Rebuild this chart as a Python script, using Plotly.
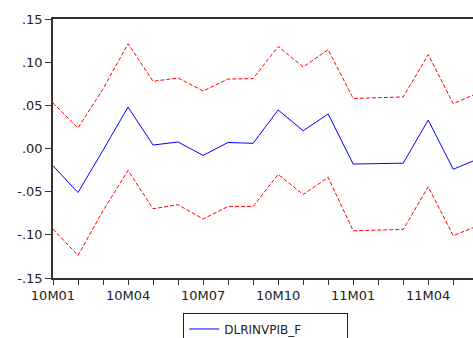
import plotly.graph_objects as go

months = ["10M01", "10M02", "10M03", "10M04", "10M05", "10M06", "10M07", "10M08", "10M09",
          "10M10", "10M11", "10M12", "11M01", "11M02", "11M03", "11M04", "11M05", "11M06"]
tick_labels = ["10M01", "", "", "10M04", "", "", "10M07", "", "", "10M10", "", "",
               "11M01", "", "", "11M04", "", ""]
forecast = [-0.020, -0.051, -0.002, 0.048, 0.004, 0.0075, -0.008, 0.007, 0.006,
            0.0446, 0.0206, 0.040, -0.018, -0.0175, -0.017, 0.033, -0.024, -0.012]
upper = [0.0527, 0.0238, 0.069, 0.1214, 0.0778, 0.0817, 0.0666, 0.0805, 0.0809,
         0.1183, 0.0944, 0.1145, 0.058, 0.0588, 0.0597, 0.1087, 0.0519, 0.0645]
lower = [-0.0933, -0.1239, -0.072, -0.0254, -0.0698, -0.0651, -0.0817, -0.0671, -0.0671,
         -0.030, -0.0532, -0.0335, -0.0953, -0.0945, -0.0937, -0.0443, -0.101, -0.0893]
y_ticks = [-0.15, -0.10, -0.05, 0.00, 0.05, 0.10, 0.15]
y_tick_labels = ["-.15", "-.10", "-.05", ".00", ".05", ".10", ".15"]

x = list(range(len(months)))

fig = go.Figure()
fig.add_trace(go.Scatter(x=x, y=upper, mode="lines", showlegend=False,
                         line=dict(color="#FF0000", width=1, dash="4px,2px")))
fig.add_trace(go.Scatter(x=x, y=lower, mode="lines", showlegend=False,
                         line=dict(color="#FF0000", width=1, dash="4px,2px")))
fig.add_trace(go.Scatter(x=x, y=forecast, mode="lines", name="DLRINVPIB_F",
                         line=dict(color="#0000FF", width=1)))

font = dict(family="DejaVu Sans, Arial, sans-serif", size=13, color="#222222")

fig.update_layout(
    width=473, height=338,
    margin=dict(l=53, r=0, t=19, b=60, autoexpand=False),
    paper_bgcolor="white", plot_bgcolor="white",
    font=font,
    xaxis=dict(range=[0, 16.79], tickvals=x, ticktext=tick_labels, automargin=False,
               showgrid=False, zeroline=False, showline=True, linecolor="#333333",
               linewidth=1.5, mirror=True, ticks="outside", ticklen=5,
               tickcolor="#333333", tickfont=font),
    yaxis=dict(range=[-0.15, 0.15], tickvals=y_ticks, ticktext=y_tick_labels, automargin=False,
               showgrid=False, zeroline=False, showline=True, linecolor="#333333",
               linewidth=1.5, ticks="outside", ticklen=6, tickcolor="#333333",
               tickfont=font),
    legend=dict(x=0.31, y=-0.137, xanchor="left", yanchor="top", orientation="h",
                entrywidth=118, entrywidthmode="pixels",
                bordercolor="#222222", borderwidth=1, bgcolor="white",
                font=dict(family="DejaVu Sans, Arial, sans-serif", size=12, color="#222222")),
)

fig.write_html("out.html", config={"displayModeBar": False},
               post_script="document.body.style.margin='0';document.body.style.overflow='hidden';")
